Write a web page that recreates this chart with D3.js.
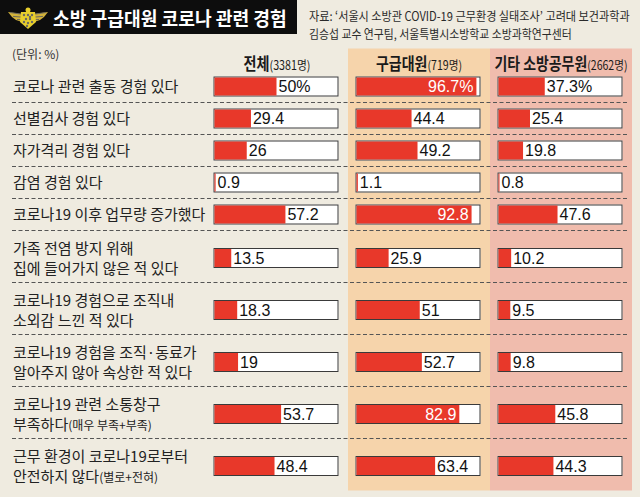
<!DOCTYPE html>
<html><head><meta charset="utf-8">
<script src="https://cdn.jsdelivr.net/npm/d3@7"></script>
<style>
html,body{margin:0;padding:0;background:#efebe0;}
svg{display:block;}
</style></head>
<body>
<script>
// ---- data ----
const title = "소방 구급대원 코로나 관련 경험";
const sourceLines = ["자료: ‘서울시 소방관 COVID-19 근무환경 실태조사’ 고려대 보건과학과",
                     "김승섭 교수 연구팀, 서울특별시소방학교 소방과학연구센터"];
const unitLabel = "(단위: %)";
const groups = ["전체", "구급대원", "기타 소방공무원"];
const groupCounts = ["(3381명)", "(719명)", "(2662명)"];
// each category: list of lines; each line: [main text, small note]
const categories = [
  [["코로나 관련 출동 경험 있다", ""]],
  [["선별검사 경험  있다", ""]],
  [["자가격리 경험 있다", ""]],
  [["감염 경험 있다", ""]],
  [["코로나19 이후 업무량 증가했다", ""]],
  [["가족 전염 방지 위해", ""], ["집에 들어가지 않은 적 있다", ""]],
  [["코로나19 경험으로 조직내", ""], ["소외감 느낀 적 있다", ""]],
  [["코로나19 경험을 조직·동료가", ""], ["알아주지 않아 속상한 적 있다", ""]],
  [["코로나19 관련 소통창구", ""], ["부족하다", "(매우 부족+부족)"]],
  [["근무 환경이 코로나19로부터", ""], ["안전하지 않다", "(별로+전혀)"]]
];
const valuesAll   = [50, 29.4, 26, 0.9, 57.2, 13.5, 18.3, 19, 53.7, 48.4];
const valuesEMS   = [96.7, 44.4, 49.2, 1.1, 92.8, 25.9, 51, 52.7, 82.9, 63.4];
const valuesOther = [37.3, 25.4, 19.8, 0.8, 47.6, 10.2, 9.5, 9.8, 45.8, 44.3];
const seriesValues = [valuesAll, valuesEMS, valuesOther];

// ---- layout ----
const W = 640, H = 497;
const FONT = "'Noto Sans CJK KR','Noto Sans',sans-serif";
const NUMFONT = "'Liberation Sans','DejaVu Sans',sans-serif";
const svg = d3.select("body").append("svg").attr("width", W).attr("height", H);
svg.append("rect").attr("width", W).attr("height", H).attr("fill", "#efebe0");

const colScale = d3.scaleBand().domain(groups).range([205, 631]).paddingInner(0).paddingOuter(0);
const barW = 125, barH = 20;
const xv = d3.scaleLinear().domain([0, 100]).range([0, barW - 1]);

// horizontally squeezed text (to mimic the condensed newspaper face)
function fitText(parent, str, x, y, targetW, attrs, anchor) {
  const g = parent.append("g");
  const t = g.append("text").attr("x", 0).attr("y", 0).text(str);
  Object.entries(attrs).forEach(([k, v]) => t.attr(k, v));
  const w = t.node().getComputedTextLength();
  const sx = Math.min(1, targetW / w);
  const x0 = anchor === "middle" ? x - (w * sx) / 2 : x;
  g.attr("transform", `translate(${x0},${y}) scale(${sx},1)`);
  return w * sx;
}

// rows
const rowTop0 = 70.5;
const rowHeights = categories.map(c => c.length === 1 ? 32 : 52);
const rowTops = [];
rowHeights.reduce((acc, h, i) => { rowTops[i] = acc; return acc + h; }, rowTop0);
const bottom = rowTops[rowTops.length - 1] + rowHeights[rowHeights.length - 1];
const rowCenter = i => rowTops[i] + rowHeights[i] / 2 + (categories[i].length > 1 ? 1.5 : 0);

// column backgrounds
const colBg = ["none", "#f6d4ab", "#f0bcad"];
groups.forEach((g, gi) => {
  if (colBg[gi] === "none") return;
  svg.append("rect").attr("x", colScale(g) + 1).attr("y", 48.5)
    .attr("width", colScale.bandwidth()).attr("height", bottom - 48.5)
    .attr("fill", colBg[gi]);
});

// title bar
svg.append("rect").attr("x", 0).attr("y", 0).attr("width", 297).attr("height", 34).attr("fill", "#0d0d0d");
fitText(svg, title, 53, 25.5, 234,
  {"fill": "#fff", "font-family": FONT, "font-weight": 700, "font-size": 19});

// logo
const logo = svg.append("g").attr("transform", "translate(28,18)");
[-1, 1].forEach(s => {
  logo.append("path").attr("d", `M0,-3 L${s*20},-6 L${s*16},-1 L${s*12},2 L${s*6},4 L0,4 Z`).attr("fill", "#d2b23a");
  logo.append("path").attr("d", `M${s*4},-3.5 L${s*18},-5.5 M${s*5},-0.8 L${s*15},-1.6 M${s*5},1.8 L${s*11},1.5`)
    .attr("stroke", "#6d6a5a").attr("stroke-width", 1);
});
logo.append("path").attr("d", "M-7,-6 L7,-6 L8,4 L0,11 L-8,4 Z").attr("fill", "#e8cf2c");
logo.append("circle").attr("cx", 0).attr("cy", -8).attr("r", 2.5).attr("fill", "#e8cf2c");
[[-4,-3],[0,-3],[4,-3],[-2,1],[2,1],[-4,4],[4,4],[0,5],[-1,8],[2,-1]].forEach(p => {
  logo.append("circle").attr("cx", p[0]).attr("cy", p[1]).attr("r", 1.2).attr("fill", "#6b6a62");
});

// source
sourceLines.forEach((t, i) => {
  fitText(svg, t, 309, 21 + i * 18, i === 0 ? 321 : 263,
    {"fill": "#2a2a2a", "font-family": FONT, "font-size": 12.5});
});

// unit
svg.append("text").attr("x", 12).attr("y", 59).attr("fill", "#333")
  .attr("font-family", FONT).attr("font-size", 12).text(unitLabel);

// group headers
const headerWidths = [67, 86, 133];
groups.forEach((g, gi) => {
  const tmp = svg.append("g");
  const a = tmp.append("text").attr("font-family", FONT).attr("font-size", 16.5).attr("font-weight", 700).text(g);
  const b = tmp.append("text").attr("font-family", FONT).attr("font-size", 12.5).text(groupCounts[gi]);
  const wa = a.node().getComputedTextLength(), wb = b.node().getComputedTextLength();
  tmp.remove();
  const sx = Math.min(1, headerWidths[gi] / (wa + wb));
  const cx = colScale(g) + colScale.bandwidth() / 2 + 1;
  const left = cx - (wa + wb) * sx / 2;
  const hg = svg.append("g").attr("transform", `translate(${left},70) scale(${sx},1)`);
  hg.append("text").attr("x", 0).attr("fill", "#1a1a1a").attr("font-family", FONT)
    .attr("font-size", 16.5).attr("font-weight", 700).text(g);
  hg.append("text").attr("x", wa).attr("fill", "#1a1a1a").attr("font-family", FONT)
    .attr("font-size", 12.5).text(groupCounts[gi]);
});

// dividers
rowTops.slice(1).forEach(y => {
  svg.append("line").attr("x1", 12).attr("x2", 628).attr("y1", y).attr("y2", y)
    .attr("stroke", "#555").attr("stroke-width", 1).attr("stroke-dasharray", "4,2.5");
});

// labels
categories.forEach((lines, i) => {
  const cy = rowCenter(i);
  lines.forEach((ln, li) => {
    const y = cy + (li - (lines.length - 1) / 2) * 20 + 5.5;
    const t = svg.append("text").attr("x", 13).attr("y", y).attr("fill", "#222")
      .attr("font-family", FONT).attr("font-size", 15);
    t.append("tspan").text(ln[0]);
    if (ln[1]) t.append("tspan").attr("font-size", 12).text(ln[1]);
  });
});

// bars
groups.forEach((g, gi) => {
  const x0 = colScale(g) + 8.5;
  const gg = svg.append("g");
  const vals = seriesValues[gi];
  const row = gg.selectAll("g.r").data(vals).join("g").attr("class", "r")
    .attr("transform", (d, i) => `translate(${x0},${rowCenter(i) - barH / 2})`);
  row.append("rect").attr("width", barW).attr("height", barH).attr("fill", "#fff");
  row.append("rect").attr("x", 0.5).attr("y", 0.5).attr("width", barW - 1).attr("height", barH - 1)
    .attr("fill", "none").attr("stroke", "#3a3a3a").attr("stroke-width", 1);
  row.append("rect").attr("x", 1).attr("y", 1).attr("width", d => xv(d)).attr("height", barH - 2).attr("fill", "#e8382a");
  row.append("text")
    .attr("x", d => d > 75 ? xv(d) - 2 : xv(d) + 3)
    .attr("y", barH / 2 + 5.8)
    .attr("text-anchor", d => d > 75 ? "end" : "start")
    .attr("fill", d => d > 75 ? "#fff" : "#111")
    .attr("font-family", NUMFONT).attr("font-size", 16)
    .text((d, i) => i === 0 ? d + "%" : String(d));
});
</script>
</body></html>
